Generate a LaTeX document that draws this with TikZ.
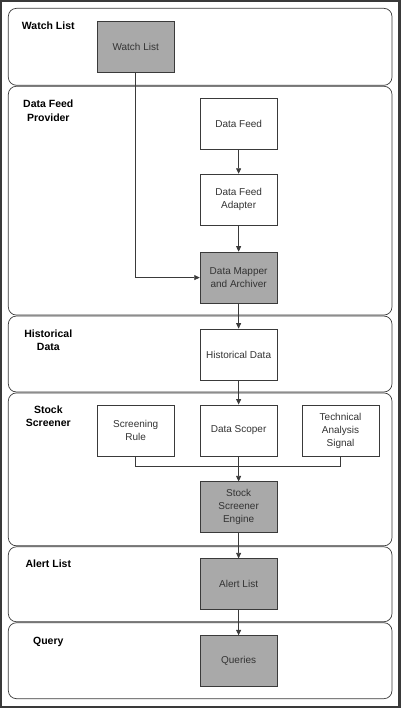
\documentclass[tikz,border=0pt]{standalone}
\usepackage{fontspec}
\setmainfont{Liberation Sans}
\usetikzlibrary{arrows.meta}
\definecolor{boxgrey}{HTML}{A9A9A9}
\definecolor{linegrey}{HTML}{3A3A3A}
\begin{document}
\begin{tikzpicture}[x=1pt, y=-1pt, >={Triangle[length=5.5pt,width=5pt]},
    lane/.style={draw=linegrey, line width=0.7pt, rounded corners=8pt, minimum width=384pt, inner sep=0pt},
    lane label/.style={anchor=north, inner sep=0pt, align=center, font=\fontsize{10.5}{13.5}\selectfont\bfseries},
    main node/.style={draw=linegrey, line width=0.8pt, fill=white, minimum width=77pt, minimum height=51pt, inner sep=0pt, align=center, text=black!80, font=\fontsize{10}{13}\selectfont},
    grey node/.style={main node, fill=boxgrey},
    every path/.style={draw=linegrey, line width=0.7pt}]

    \useasboundingbox (0,0) rectangle (400,708);
    \draw[line width=1.2pt] (1,1) rectangle (399,707);

    \node[lane, minimum height=77pt] at (200, 46.5) (watchlane) {};
    \node[lane, minimum height=229pt] at (200, 200.5) (feedlane) {};
    \node[lane, minimum height=76pt] at (200, 354) (histlane) {};
    \node[lane, minimum height=153pt] at (200, 469.5) (screenlane) {};
    \node[lane, minimum height=75pt] at (200, 584.5) (alertlane) {};
    \node[lane, minimum height=76pt] at (200, 661) (querylane) {};

    \node[lane label] at (48, 21.5) (watchlabel) {Watch List};
    \node[lane label] at (48, 99.5) (feedlabel) {Data Feed\\Provider};
    \node[lane label] at (48, 329.5) (histlabel) {Historical\\Data};
    \node[lane label] at (48, 405.5) (screenlabel) {Stock\\Screener};
    \node[lane label] at (48, 560) (alertlabel) {Alert List};
    \node[lane label] at (48, 637) (querylabel) {Query};

    \node[grey node] at (135.5, 46.5) (watch) {Watch List};
    \node[main node] at (238.5, 124) (feed) {Data Feed};
    \node[main node] at (238.5, 199.5) (adapter) {Data Feed\\Adapter};
    \node[grey node] at (238.5, 277.5) (mapper) {Data Mapper\\and Archiver};
    \node[main node] at (238.5, 354.5) (hist) {Historical Data};
    \node[main node] at (135.5, 430.5) (rule) {Screening\\Rule};
    \node[main node] at (238.5, 430.5) (scoper) {Data Scoper};
    \node[main node] at (340.5, 430.5) (signal) {Technical\\Analysis\\Signal};
    \node[grey node] at (238.5, 507.5) (engine) {Stock\\Screener\\Engine};
    \node[grey node] at (238.5, 584.5) (alert) {Alert List};
    \node[grey node] at (238.5, 661.5) (queries) {Queries};
    \coordinate (join) at (238.5, 466);

    \path[->] (feed) edge (adapter);
    \path[->] (adapter) edge (mapper);
    \draw[->] (watch) |- (mapper);
    \path[->] (mapper) edge (hist);
    \path[->] (hist) edge (scoper);
    \draw (rule) |- (join) -| (signal);
    \path[->] (scoper) edge (engine);
    \path[->] (engine) edge (alert);
    \path[->] (alert) edge (queries);
\end{tikzpicture}
\end{document}
